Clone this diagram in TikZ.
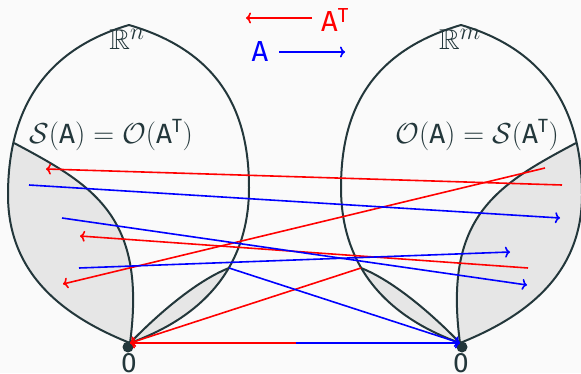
\documentclass[tikz,border=0pt]{standalone}
\usepackage{amssymb}
\usepackage{fontspec}
\setsansfont{Fira Sans}
\usetikzlibrary{arrows.meta}
\definecolor{mteal}{HTML}{23373B}
\definecolor{bgc}{HTML}{FAFAFA}
\definecolor{fillg}{HTML}{E6E6E6}
\newcommand\sfA{\mbox{\sffamily\fontsize{24}{28}\selectfont A}}
\newcommand\sfT{\mbox{\sffamily\fontsize{16.5}{20}\selectfont T}}
\newcommand\outerL{(129,348) .. controls (225,320) and (249,255) .. (249,185) .. controls (249,125) and (222,63) .. (130,30) .. controls (65,56) and (8,98) .. (8,178) .. controls (8,258) and (40,322) .. (129,348) -- cycle}
\newcommand\fillsA{(14,230) .. controls (93,188) and (147,157) .. (130,30) -- (130,-10) -- (-10,-10) -- (-10,230) -- cycle}
\newcommand\filllens{(130,30) .. controls (157,58) and (196,92) .. (229,105) -- (300,105) -- (300,-10) -- (130,-10) -- cycle}
\newcommand\petalshape{%
  \begin{scope}
    \clip \outerL;
    \fill[fillg] \fillsA;
    \fill[fillg] \filllens;
  \end{scope}
  \draw[shapeline] \outerL;
  \draw[shapeline] (14,230) .. controls (93,188) and (147,157) .. (130,30);
  \draw[shapeline] (130,30) .. controls (157,58) and (196,92) .. (229,105);
}
\begin{document}
\begin{tikzpicture}[x=1pt,y=1pt,
  shapeline/.style={draw=mteal, line width=2pt, line join=round},
  tipst/.style={-{Computer Modern Rightarrow[length=5pt,width=11pt]}},
  mapA/.style={blue, line width=1.6pt, tipst},
  mapAT/.style={red, line width=1.6pt, tipst},
  mathlbl/.style={text=mteal, font=\fontsize{24.88}{30}\selectfont, inner sep=0pt},
  zerolbl/.style={text=mteal, font=\sffamily\fontsize{28}{34}\selectfont, inner sep=0pt, anchor=base},
  dotst/.style={circle, fill=mteal, inner sep=0pt, minimum size=11pt},
  legA/.style={font=\fontsize{29}{35}\selectfont, inner sep=0pt}]
\fill[bgc] (0,0) rectangle (581,373);
\useasboundingbox (0,0) rectangle (581,373);
% shapes
\petalshape
\begin{scope}[shift={(590,0)}, xscale=-1]
  \petalshape
\end{scope}
% labels
\node[mathlbl, anchor=base] (rn) at (127,323) {\scalebox{1.15}{$\mathbb{R}^n$}};
\node[mathlbl, anchor=base] (rm) at (460,323) {\scalebox{1.15}{$\mathbb{R}^m$}};
\node[mathlbl, anchor=base] (sa) at (111,230) {\scalebox{1.16}{$\mathcal{S}(\sfA)=\mathcal{O}(\sfA^{\sfT})$}};
\node[mathlbl, anchor=base] (oa) at (477,230) {\scalebox{1.16}{$\mathcal{O}(\sfA)=\mathcal{S}(\sfA^{\sfT})$}};
% zero points
\node[dotst] (z1) at (128,26) {};
\node[dotst] (z2) at (462,26) {};
\node[zerolbl] (zero1) at (129,1) {0};
\node[zerolbl] (zero2) at (461,1) {0};
% coordinates
\coordinate (B1) at (130,30);
\coordinate (B2) at (460,30);
\coordinate (L1) at (229,105);
\coordinate (L2) at (361,105);
\coordinate (M) at (296,30);
\coordinate (r1s) at (562,188); \coordinate (r1e) at (46,204);
\coordinate (r2s) at (545,205); \coordinate (r2e) at (63,89);
\coordinate (r3s) at (528,105); \coordinate (r3e) at (80,137);
\coordinate (b1s) at (29,188);  \coordinate (b1e) at (560,155);
\coordinate (b2s) at (62,155);  \coordinate (b2e) at (527,88);
\coordinate (b3s) at (79,105);  \coordinate (b3e) at (510,121);
% arrows A^T
\draw[mapAT] (r1s) -- (r1e);
\draw[mapAT] (r2s) -- (r2e);
\draw[mapAT] (r3s) -- (r3e);
\draw[mapAT] (L2) -- (B1);
\draw[mapAT] (M) -- (B1);
% arrows A
\draw[mapA] (b1s) -- (b1e);
\draw[mapA] (b2s) -- (b2e);
\draw[mapA] (b3s) -- (b3e);
\draw[mapA] (L1) -- (B2);
\draw[mapA] (M) -- (B2);
% legend
\node[legA, text=red, anchor=base west] (lat) at (321,341) {$\mathsf{A}^{\mathsf{T}}$};
\node[legA, text=blue, anchor=base] (la) at (260,311) {$\mathsf{A}$};
\coordinate (lr1) at (312,355); \coordinate (lr2) at (246,355);
\coordinate (lb1) at (279,321); \coordinate (lb2) at (345,321);
\draw[mapAT] (lr1) -- (lr2);
\draw[mapA] (lb1) -- (lb2);
\end{tikzpicture}
\end{document}
